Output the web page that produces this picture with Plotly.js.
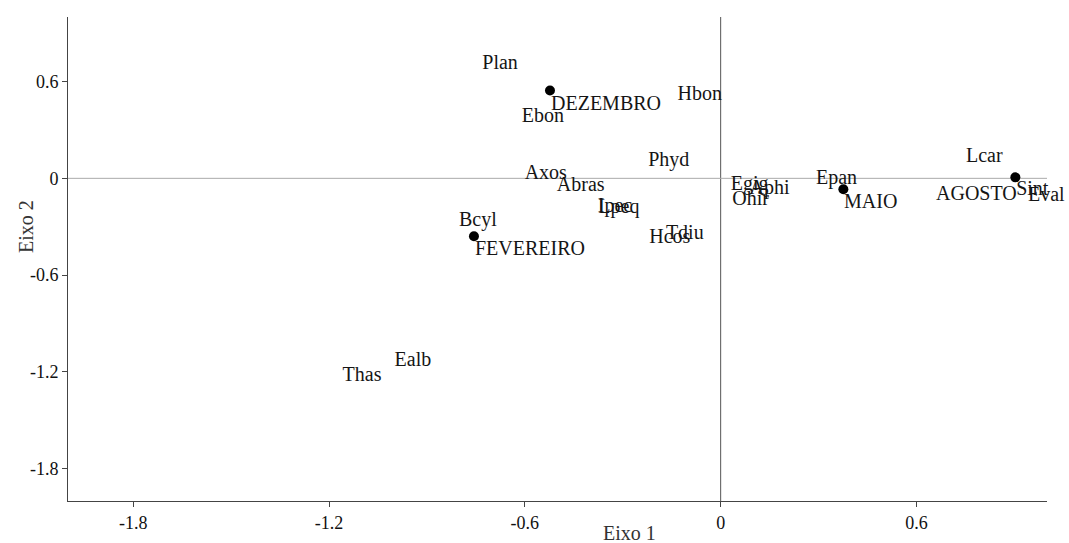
<!DOCTYPE html>
<html>
<head>
<meta charset="utf-8">
<script src="https://cdn.plot.ly/plotly-3.0.1.min.js"></script>
<style>html,body{margin:0;padding:0;background:#fff;}#chart{width:1069px;height:543px;}</style>
</head>
<body>
<div id="chart"></div>
<script>
// Sampling months (points)
const months = ["DEZEMBRO", "FEVEREIRO", "MAIO", "AGOSTO"];
const monthX = [-0.523, -0.756, 0.376, 0.903];
const monthY = [0.544, -0.359, -0.068, 0.006];
const monthLabelSide = ["right", "right", "right", "left"];

// Species (labels only)
const species = ["Plan", "Ebon", "Hbon", "Phyd", "Axos", "Abras", "Ipec", "Lpeq", "Hcos", "Tdiu",
                 "Egig", "Aphi", "Ohir", "Epan", "Lcar", "Sint", "Eval", "Bcyl", "Thas", "Ealb"];
const speciesX = [-0.676, -0.545, -0.064, -0.159, -0.536, -0.429, -0.324, -0.312, -0.156, -0.110,
                  0.089, 0.150, 0.092, 0.355, 0.808, 0.955, 0.998, -0.744, -1.099, -0.943];
const speciesY = [0.711, 0.383, 0.519, 0.105, 0.025, -0.049, -0.179, -0.186, -0.371, -0.346,
                  -0.043, -0.068, -0.136, -0.006, 0.130, -0.074, -0.111, -0.266, -1.224, -1.132];

// Axis ticks
const tickVals = [-1.8, -1.2, -0.6, 0, 0.6];
const tickText = ["-1.8", "-1.2", "-0.6", "0", "0.6"];
const xTitle = "Eixo 1";
const yTitle = "Eixo 2";

const fontFam = "Liberation Serif, Times New Roman, serif";
const ink = "#151515";

const traces = [
  {
    type: "scatter", mode: "text",
    x: speciesX, y: speciesY, text: species,
    textposition: "middle center",
    textfont: {family: fontFam, size: 20, color: ink},
    cliponaxis: false, hoverinfo: "text"
  },
  {
    x: monthX, y: monthY, type: "scatter", mode: "markers",
    marker: {color: "#000", size: 10},
    cliponaxis: false, hoverinfo: "none"
  }
];

const monthAnn = months.map((m, i) => ({
  text: m, xref: "x", yref: "y", x: monthX[i], y: monthY[i],
  xanchor: monthLabelSide[i] === "left" ? "right" : "left", yanchor: "middle",
  xshift: monthLabelSide[i] === "left" ? 3 : 0,
  yshift: monthLabelSide[i] === "left" ? -16 : -12,
  showarrow: false, borderpad: 0,
  font: {family: fontFam, size: 20, color: ink}
}));

const layout = {
  width: 1069, height: 543,
  margin: {l: 68, r: 22, t: 17, b: 42},
  paper_bgcolor: "#fff", plot_bgcolor: "#fff",
  showlegend: false,
  font: {family: fontFam, color: ink},
  xaxis: {
    range: [-2, 1], tickvals: tickVals, ticktext: tickText,
    showgrid: false, zeroline: false,
    showline: true, linecolor: "#444", linewidth: 1,
    ticks: "outside", ticklen: 5, tickcolor: "#444",
    tickfont: {family: fontFam, size: 18, color: "#111"}
  },
  yaxis: {
    range: [-2, 1], tickvals: tickVals, ticktext: tickText,
    showgrid: false, zeroline: false,
    showline: true, linecolor: "#444", linewidth: 1,
    ticks: "outside", ticklen: 5, tickcolor: "#444",
    tickfont: {family: fontFam, size: 18, color: "#111"}
  },
  shapes: [
    {type: "line", xref: "x", yref: "paper", x0: 0, x1: 0, y0: 0, y1: 1,
     line: {color: "#555", width: 1}, layer: "below"},
    {type: "line", xref: "paper", yref: "y", x0: 0, x1: 1, y0: 0, y1: 0,
     line: {color: "#aaa", width: 1}, layer: "below"}
  ],
  annotations: monthAnn.concat([
    {text: xTitle, xref: "paper", yref: "paper", x: 0.574, y: -0.066,
     xanchor: "center", yanchor: "middle", showarrow: false,
     font: {family: fontFam, size: 20, color: "#333"}},
    {text: yTitle, xref: "paper", yref: "paper", x: -0.043, y: 0.568,
     xanchor: "center", yanchor: "middle", showarrow: false, textangle: -90,
     font: {family: fontFam, size: 20, color: "#333"}}
  ])
};

Plotly.newPlot("chart", traces, layout, {staticPlot: true, displayModeBar: false});
</script>
</body>
</html>
